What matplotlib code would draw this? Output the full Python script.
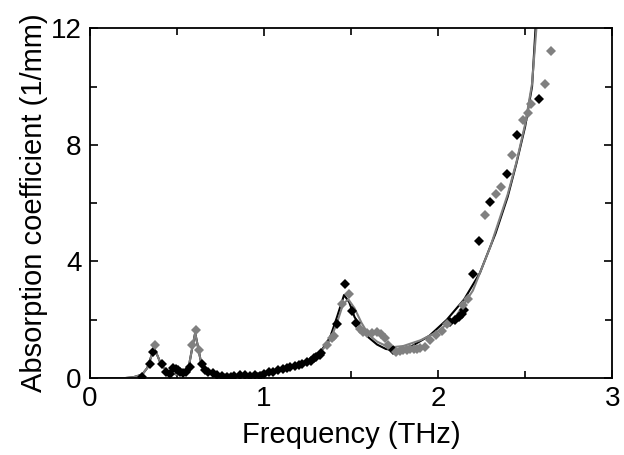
import numpy as np
import matplotlib.pyplot as plt
from matplotlib.ticker import MultipleLocator

plt.rcParams['font.family'] = ['Liberation Sans', 'DejaVu Sans']

# measured points, set 1 (black)
f_black = [0.30, 0.345, 0.364, 0.412, 0.44, 0.46, 0.479, 0.495, 0.508, 0.52, 0.536,
           0.555, 0.575, 0.642, 0.66, 0.68, 0.71, 0.73, 0.76, 0.785, 0.81, 0.83,
           0.86, 0.89, 0.92, 0.95, 0.977, 1.0, 1.03, 1.05, 1.08, 1.11, 1.13, 1.15,
           1.18, 1.2, 1.22, 1.245, 1.27, 1.29, 1.30, 1.32, 1.33, 1.421, 1.466,
           1.504, 1.529, 1.743, 2.07, 2.10, 2.12, 2.135, 2.15, 2.203, 2.238,
           2.299, 2.395, 2.456, 2.582]
a_black = [0.05, 0.5, 0.9, 0.5, 0.2, 0.15, 0.33, 0.3, 0.27, 0.2, 0.16,
           0.2, 0.39, 0.5, 0.27, 0.2, 0.16, 0.12, 0.08, 0.05, 0.05, 0.06,
           0.1, 0.1, 0.08, 0.1, 0.08, 0.15, 0.2, 0.22, 0.28, 0.32, 0.36, 0.39,
           0.42, 0.46, 0.5, 0.56, 0.6, 0.68, 0.73, 0.8, 0.85, 1.87, 3.22,
           2.31, 1.9, 0.96, 1.93, 2.0, 2.1, 2.2, 2.35, 3.57, 4.70,
           6.05, 7.0, 8.34, 9.56]

# measured points, set 2 (gray)
f_gray = [0.377, 0.588, 0.607, 0.628, 1.36, 1.389, 1.402, 1.446, 1.488, 1.552, 1.57,
          1.59, 1.62, 1.648, 1.67, 1.695, 1.71, 1.76, 1.78, 1.80, 1.82, 1.84,
          1.86, 1.88, 1.897, 1.925, 1.954, 1.99, 2.02, 2.05, 2.145, 2.174,
          2.27, 2.331, 2.362, 2.425, 2.49, 2.519, 2.534, 2.615, 2.648]
a_gray = [1.13, 1.13, 1.65, 0.96, 1.13, 1.36, 1.45, 2.54, 2.90, 1.68, 1.58,
          1.55, 1.55, 1.59, 1.5, 1.36, 1.13, 0.9, 0.92, 0.96, 0.98, 1.0,
          1.0, 1.01, 1.02, 1.07, 1.30, 1.47, 1.62, 1.87, 2.5, 2.73,
          5.59, 6.3, 6.56, 7.64, 8.84, 9.1, 9.4, 10.07, 11.23]

# fitted curves
f_fit1 = [0.0, 0.2, 0.25, 0.3, 0.33, 0.35, 0.37, 0.39, 0.41, 0.45, 0.5, 0.55, 0.57,
          0.59, 0.605, 0.62, 0.64, 0.68, 0.75, 0.85, 0.95, 1.05, 1.15, 1.25, 1.32,
          1.38, 1.42, 1.46, 1.49, 1.52, 1.56, 1.6, 1.65, 1.7, 1.75, 1.85, 1.95,
          2.05, 2.15, 2.24, 2.33, 2.40, 2.45, 2.50, 2.54, 2.56]
a_fit1 = [0.0, 0.0, 0.03, 0.12, 0.35, 0.7, 1.0, 0.75, 0.45, 0.2, 0.12, 0.2, 0.45,
          1.1, 1.55, 1.1, 0.5, 0.25, 0.12, 0.1, 0.15, 0.25, 0.4, 0.6, 0.85,
          1.4, 2.1, 2.85, 2.6, 2.1, 1.7, 1.4, 1.15, 1.0, 0.95, 1.1, 1.45,
          2.0, 2.7, 3.6, 4.96, 6.22, 7.36, 8.62, 10.0, 12.0]
f_fit2 = [0.0, 0.2, 0.25, 0.3, 0.33, 0.35, 0.37, 0.39, 0.41, 0.45, 0.5, 0.55, 0.57,
          0.59, 0.605, 0.62, 0.64, 0.68, 0.75, 0.85, 0.95, 1.05, 1.15, 1.25, 1.32,
          1.38, 1.42, 1.455, 1.485, 1.52, 1.56, 1.6, 1.65, 1.72, 1.8, 1.9, 2.0,
          2.1, 2.2, 2.3, 2.4, 2.45, 2.5, 2.54, 2.565]
a_fit2 = [0.0, 0.0, 0.03, 0.12, 0.35, 0.7, 1.0, 0.75, 0.45, 0.2, 0.12, 0.2, 0.45,
          1.1, 1.55, 1.1, 0.5, 0.25, 0.12, 0.1, 0.15, 0.25, 0.4, 0.6, 0.85,
          1.3, 1.9, 2.55, 2.7, 2.4, 1.9, 1.5, 1.25, 1.05, 1.1, 1.3, 1.6,
          2.1, 3.0, 4.5, 6.3, 7.4, 8.7, 10.1, 12.0]

fig = plt.figure(figsize=(6.24, 4.55), dpi=100)
ax = fig.add_axes([0.144, 0.169, 0.837, 0.769])

ax.plot(f_fit1, a_fit1, color='black', lw=1.5, zorder=2)
ax.plot(f_fit2, a_fit2, color='#808080', lw=1.5, zorder=2)
ax.plot(f_black, a_black, 'D', color='black', ms=5.5, mew=0, zorder=3)
ax.plot(f_gray, a_gray, 'D', color='#808080', ms=5.5, mew=0, zorder=4)

ax.set_xlim(0, 3)
ax.set_ylim(0, 12)
ax.xaxis.set_major_locator(MultipleLocator(1))
ax.xaxis.set_minor_locator(MultipleLocator(0.5))
ax.yaxis.set_major_locator(MultipleLocator(4))
ax.yaxis.set_minor_locator(MultipleLocator(2))
ax.tick_params(which='both', direction='in', top=True, right=True, width=1.2,
               labelsize=20)
ax.tick_params(axis='x', pad=6)
ax.tick_params(axis='y', pad=6)
ax.tick_params(which='major', length=6)
ax.tick_params(which='minor', length=5)
for s in ax.spines.values():
    s.set_linewidth(1.3)

ax.set_xlabel('Frequency (THz)', fontsize=21, labelpad=6)
ax.set_ylabel('Absorption coefficient (1/mm)', fontsize=21, labelpad=2)

fig.savefig('out.png', dpi=100)
